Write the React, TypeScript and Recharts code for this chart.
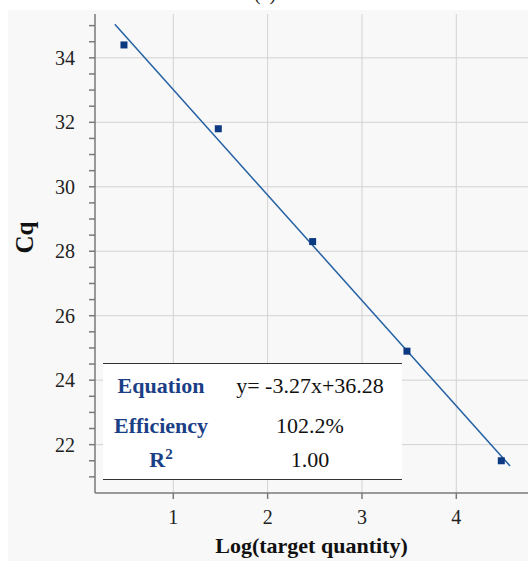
import {
  ComposedChart,
  XAxis,
  YAxis,
  CartesianGrid,
  Line,
  Scatter,
} from "recharts";

// log10 of target quantity vs measured Cq
const logQuantity = [0.477, 1.477, 2.477, 3.477, 4.477];
const cqValues = [34.4, 31.8, 28.3, 24.9, 21.5];

// fitted standard curve endpoints (y = -3.27x + 36.28)
const fitX = [0.38, 4.57];
const fitY = [35.04, 21.34];

const xTicks = [1, 2, 3, 4];
const yMajorTicks = [22, 24, 26, 28, 30, 32, 34];
const yMinorTicks = [
  21, 21.5, 22, 22.5, 23, 23.5, 24, 24.5, 25, 25.5, 26, 26.5, 27, 27.5, 28,
  28.5, 29, 29.5, 30, 30.5, 31, 31.5, 32, 32.5, 33, 33.5, 34, 34.5, 35,
];

const tableLabels = ["Equation", "Efficiency", "R"];
const tableValues = ["y= -3.27x+36.28", "102.2%", "1.00"];

const points = logQuantity.map((x, i) => ({ x, y: cqValues[i] }));
const fitLine = fitX.map((x, i) => ({ x, y: fitY[i] }));

const FONT = "'Liberation Serif', 'DejaVu Serif', serif";
const AXIS = "#7a7a7a";

interface TickProps {
  x: number;
  y: number;
  payload: { value: number };
}

const YTick = (props: TickProps) => {
  const { x, y, payload } = props;
  if (!yMajorTicks.includes(payload.value)) return null;
  return (
    <text
      x={x - 12}
      y={y}
      dy={7}
      textAnchor="end"
      fontFamily={FONT}
      fontSize={20}
      fill="#222"
    >
      {payload.value}
    </text>
  );
};

const SquareDot = (props: { cx?: number; cy?: number }) => {
  const { cx = 0, cy = 0 } = props;
  return <rect x={cx - 3.5} y={cy - 3.5} width={7} height={7} fill="#0b3a82" />;
};

export default function App() {
  return (
    <div
      style={{
        position: "absolute",
        left: 0,
        top: 0,
        width: 528,
        height: 561,
        background: "#fff",
        overflow: "hidden",
      }}
    >
      <div
        style={{
          position: "absolute",
          left: 8,
          top: 10,
          right: 0,
          bottom: 0,
          background: "#f8f8f8",
        }}
      />
      <div
        style={{
          position: "absolute",
          left: 0,
          top: -17,
          width: 530,
          textAlign: "center",
          fontFamily: FONT,
          fontSize: 20,
          lineHeight: "20px",
          color: "#222",
        }}
      >
        (a)
      </div>
      <div style={{ position: "absolute", left: 0, top: 0 }}>
        <ComposedChart
          width={528}
          height={561}
          margin={{ top: 14, right: 0, bottom: 0, left: 0 }}
        >
          <CartesianGrid
            stroke="#d2d2d2"
            strokeWidth={1}
            horizontalValues={yMajorTicks}
            verticalValues={xTicks}
          />
          <XAxis
            type="number"
            dataKey="x"
            domain={[0.17, 4.76]}
            ticks={xTicks}
            allowDataOverflow
            height={68}
            stroke={AXIS}
            strokeWidth={1.5}
            tickSize={6}
            tickMargin={11}
            tick={{ fill: "#222", fontFamily: FONT, fontSize: 20 }}
            label={{
              value: "Log(target quantity)",
              position: "insideBottom",
              offset: 8,
              fill: "#111",
              fontFamily: FONT,
              fontSize: 22,
              fontWeight: "bold",
            }}
          />
          <XAxis
            xAxisId="top"
            type="number"
            orientation="top"
            domain={[0.17, 4.76]}
            height={0}
            tick={false}
            tickLine={false}
            stroke={AXIS}
            strokeWidth={1.5}
          />
          <YAxis
            type="number"
            dataKey="y"
            domain={[20.5, 35.36]}
            ticks={yMinorTicks}
            interval={0}
            allowDataOverflow
            width={95}
            stroke={AXIS}
            strokeWidth={1.5}
            tickSize={6}
            tick={YTick}
            label={{
              value: "Cq",
              angle: -90,
              position: "insideLeft",
              offset: 24,
              fill: "#111",
              fontFamily: FONT,
              fontSize: 25,
              fontWeight: "bold",
            }}
          />
          <Line
            data={fitLine}
            dataKey="y"
            type="linear"
            stroke="#2461a3"
            strokeWidth={1.5}
            dot={false}
            activeDot={false}
            isAnimationActive={false}
          />
          <Scatter
            data={points}
            dataKey="y"
            shape={SquareDot}
            isAnimationActive={false}
          />
        </ComposedChart>
      </div>
      <div
        style={{
          position: "absolute",
          left: 103,
          top: 363,
          width: 299,
          height: 115,
          background: "#fff",
          borderTop: "1.5px solid #333",
          borderBottom: "1.5px solid #333",
          fontFamily: FONT,
          fontSize: 22,
        }}
      >
        {tableLabels.map((label, i) => (
          <div
            key={label}
            style={{
              position: "absolute",
              left: 0,
              top: [9, 49, 83][i],
              width: 299,
              height: 26,
              lineHeight: "26px",
            }}
          >
            <span
              style={{
                position: "absolute",
                left: 0,
                width: 116,
                textAlign: "center",
                fontWeight: "bold",
                color: "#1b3f86",
              }}
            >
              {label}
              {i === 2 ? (
                <span
                  style={{
                    fontSize: 15,
                    position: "relative",
                    top: -8,
                  }}
                >
                  2
                </span>
              ) : null}
            </span>
            <span
              style={{
                position: "absolute",
                left: 128,
                width: 158,
                textAlign: "center",
                color: "#111",
              }}
            >
              {tableValues[i]}
            </span>
          </div>
        ))}
      </div>
    </div>
  );
}
